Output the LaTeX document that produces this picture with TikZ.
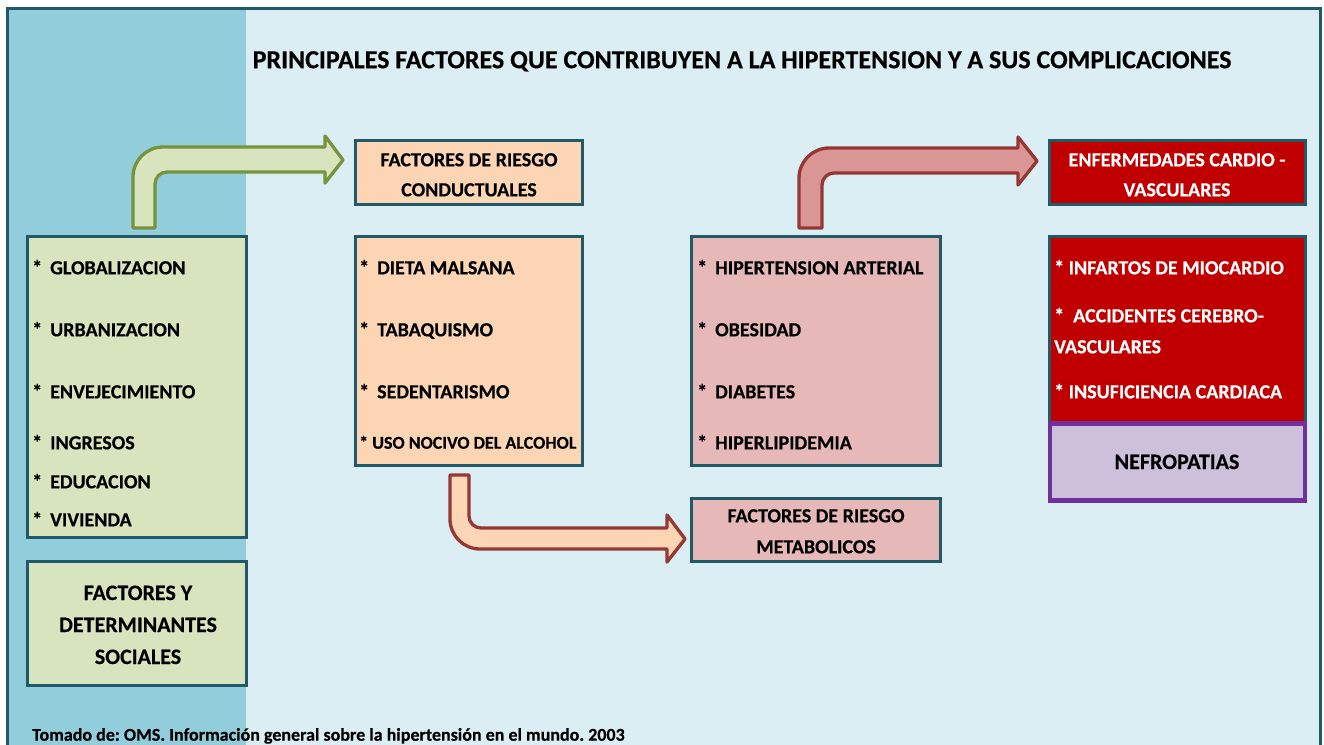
\documentclass[tikz,border=0pt]{standalone}
\usepackage{fontspec}
\setmainfont{Carlito}[BoldFeatures={FakeBold=0.4}]
\frenchspacing
\definecolor{mainbg}{HTML}{DAEEF3}
\definecolor{leftbg}{HTML}{92CDDC}
\definecolor{boxline}{HTML}{215968}
\definecolor{gfill}{HTML}{D7E4BD}
\definecolor{gline}{HTML}{77933C}
\definecolor{ofill}{HTML}{FCD5B5}
\definecolor{pfill}{HTML}{E6B9B8}
\definecolor{rfill}{HTML}{C00000}
\definecolor{rline}{HTML}{953735}
\definecolor{rarrow}{HTML}{D99694}
\definecolor{nfill}{HTML}{CCC0DA}
\definecolor{nline}{HTML}{7030A0}
\tikzset{
  box/.style={draw=boxline, line width=3pt, inner sep=0pt},
  item/.style={inner sep=0pt, anchor=west, text height=12.6pt, text depth=0pt,
    font=\bfseries\fontsize{20}{20}\selectfont},
  smallitem/.style={item, text height=11.4pt, font=\bfseries\fontsize{18}{18}\selectfont},
  ctr/.style={item, anchor=center},
  bigctr/.style={ctr, text height=14pt, font=\bfseries\fontsize{22}{22}\selectfont},
  garrow/.style={draw=gline, fill=gfill, line width=3.3pt, line join=round},
  rarrowst/.style={draw=rline, fill=rarrow, line width=3.3pt, line join=round},
  oarrow/.style={draw=rline, fill=ofill, line width=3.3pt, line join=round},
}
\newcommand{\st}{\makebox[18pt][l]{*}}
\begin{document}
\begin{tikzpicture}[x=1pt,y=-1pt]
\useasboundingbox (0,0) rectangle (1324,744);
\clip (0,0) rectangle (1324,744);
\fill[white] (0,0) rectangle (1324,744);
\fill[mainbg] (7,8) rectangle (1320,770);
\fill[leftbg] (7,8) rectangle (246,770);
\draw[boxline, line width=3pt] (7,8) rectangle (1320,770);

% title
\node[inner sep=0pt, font=\bfseries\fontsize{26}{26}\selectfont, text height=16.4pt, text depth=0pt] (title) at (742,60)
  {PRINCIPALES FACTORES QUE CONTRIBUYEN A LA HIPERTENSION Y A SUS COMPLICACIONES};

% boxes
\node[box, fill=gfill, minimum width=219pt, minimum height=301pt] (g1) at (136.5,386.5) {};
\node[box, fill=gfill, minimum width=219pt, minimum height=124pt] (g2) at (136.5,623) {};
\node[box, fill=ofill, minimum width=227pt, minimum height=64pt] (o1) at (468.5,172) {};
\node[box, fill=ofill, minimum width=227pt, minimum height=229pt] (o2) at (468.5,350.5) {};
\node[box, fill=pfill, minimum width=249pt, minimum height=229pt] (p2) at (815.5,350.5) {};
\node[box, fill=pfill, minimum width=249pt, minimum height=63pt] (p1) at (815.5,529.5) {};
\node[box, fill=rfill, minimum width=256pt, minimum height=64pt] (r1) at (1177.5,172) {};
\node[box, fill=rfill, minimum width=256pt, minimum height=187pt] (r2) at (1177.5,329.5) {};
\node[draw=nline, line width=4.5pt, fill=nfill, inner sep=0pt, minimum width=255pt, minimum height=77pt] (nf) at (1177.5,462) {};

% green list
\node[item] (ga) at (32,268) {\st GLOBALIZACION};
\node[item] (gb) at (32,330) {\st URBANIZACION};
\node[item] (gc) at (32,392) {\st ENVEJECIMIENTO};
\node[item] (gd) at (32,443) {\st INGRESOS};
\node[item] (ge) at (32,482) {\st EDUCACION};
\node[item] (gf) at (32,520) {\st VIVIENDA};
\node[bigctr] (gt1) at (138,593) {FACTORES Y};
\node[bigctr] (gt2) at (138,625) {DETERMINANTES};
\node[bigctr] (gt3) at (138,657) {SOCIALES};

% orange
\node[ctr] (ot1) at (469,160) {FACTORES DE RIESGO};
\node[ctr] (ot2) at (469,190) {CONDUCTUALES};
\node[item] (oa) at (359,268) {\st DIETA MALSANA};
\node[item] (ob) at (359,330) {\st TABAQUISMO};
\node[item] (oc) at (359,392) {\st SEDENTARISMO};
\node[smallitem] (od) at (359,443) {* USO NOCIVO DEL ALCOHOL};

% pink
\node[item] (pa) at (697,268) {\st HIPERTENSION ARTERIAL};
\node[item] (pb) at (697,330) {\st OBESIDAD};
\node[item] (pc) at (697,392) {\st DIABETES};
\node[item] (pd) at (697,443) {\st HIPERLIPIDEMIA};
\node[ctr] (pt1) at (816,516) {FACTORES DE RIESGO};
\node[ctr] (pt2) at (816,547) {METABOLICOS};

% red
\node[ctr, text=white] (rt1) at (1177,160) {ENFERMEDADES CARDIO -};
\node[ctr, text=white] (rt2) at (1177,190) {VASCULARES};
\node[item, text=white] (ra) at (1054,268) {* INFARTOS DE MIOCARDIO};
\node[item, text=white] (rb) at (1054,316) {*\ \ ACCIDENTES CEREBRO-};
\node[item, text=white] (rc) at (1054,347) {VASCULARES};
\node[item, text=white] (rd) at (1054,392) {* INSUFICIENCIA CARDIACA};
\node[bigctr] (nt) at (1177,462) {NEFROPATIAS};

% footer
\node[inner sep=0pt, anchor=west, font=\bfseries\fontsize{18}{18}\selectfont, text height=11.4pt, text depth=0pt] (foot) at (32,735)
  {Tomado de: OMS. Información general sobre la hipertensión en el mundo. 2003};

% block arrows
\draw[garrow] (133,228) -- (133,177) arc[start angle=180, end angle=270, radius=30]
  -- (325,147) -- (325,136) -- (343,160) -- (325,183) -- (325,172) -- (167,172)
  arc[start angle=270, end angle=180, radius=12] -- (155,228) -- cycle;
\draw[rarrowst] (799,228) -- (799,178) arc[start angle=180, end angle=270, radius=30]
  -- (1018,148) -- (1018,137) -- (1037,161) -- (1018,185) -- (1018,173) -- (834,173)
  arc[start angle=270, end angle=180, radius=12] -- (822,228) -- cycle;
\draw[oarrow] (450,475) -- (450,519) arc[start angle=180, end angle=90, radius=30]
  -- (667,549) -- (667,562) -- (685,539) -- (667,515) -- (667,528) -- (481,528)
  arc[start angle=90, end angle=180, radius=12] -- (469,475) -- cycle;
\end{tikzpicture}
\end{document}
